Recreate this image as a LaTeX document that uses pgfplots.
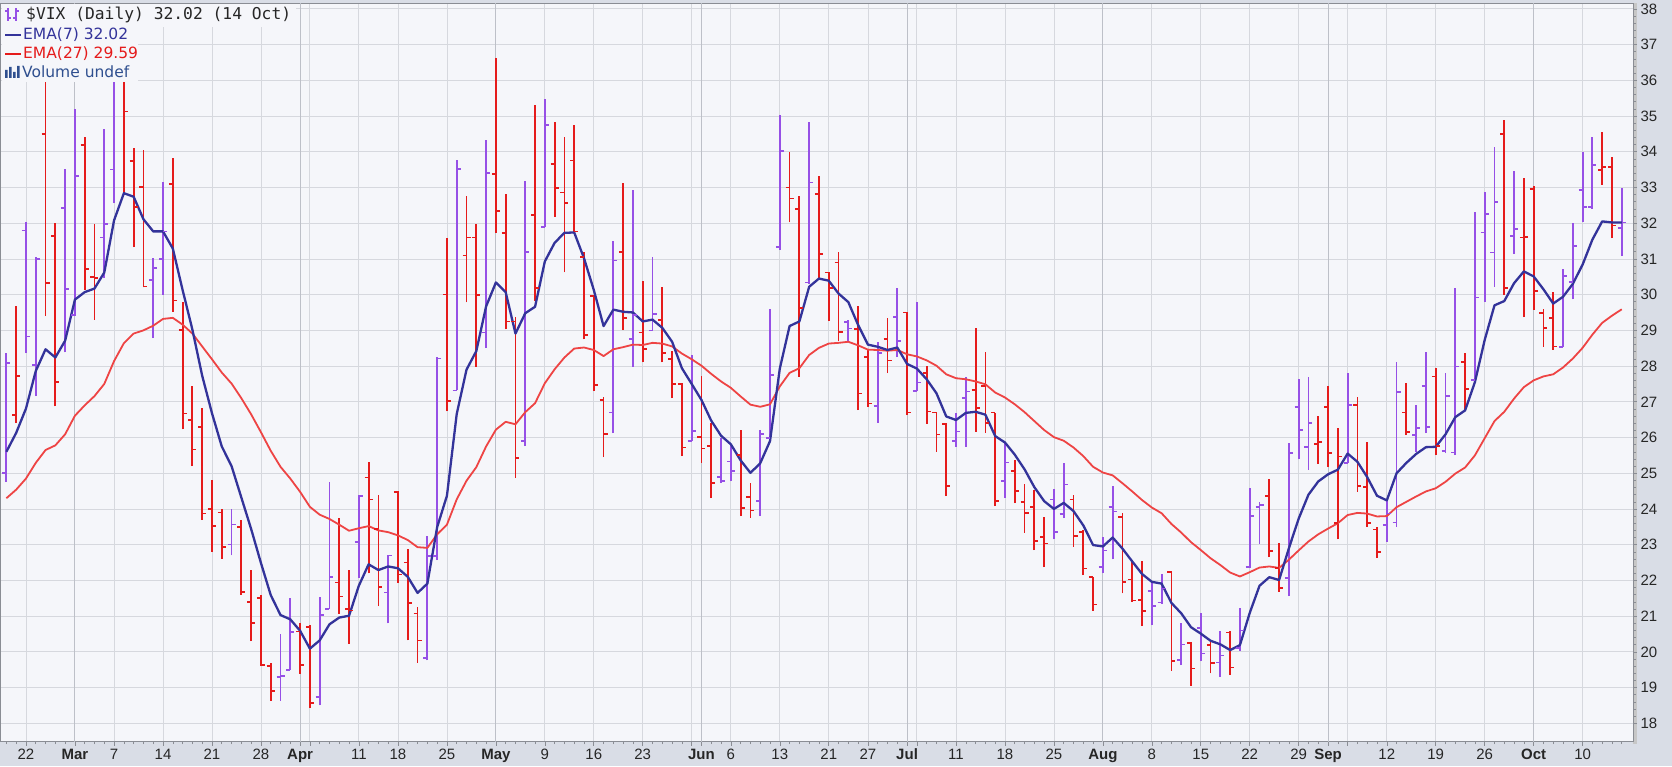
\documentclass[border=0pt]{standalone}
\usepackage{fontspec}
\setmainfont{Liberation Sans}
\newfontfamily\dejavu{DejaVu Sans}
\newfontfamily\dejamono{DejaVu Sans Mono}
\usepackage{pgfplots}
\usepackage{pgfplotstable}
\pgfplotsset{compat=1.18}
\definecolor{outerbg}{HTML}{D9DDE6}
\definecolor{plotbg}{HTML}{F5F6FA}
\definecolor{gridc}{HTML}{D6D8DE}
\definecolor{gridm}{HTML}{BDC0C8}
\definecolor{upc}{HTML}{9650E6}
\definecolor{dnc}{HTML}{E51B1B}
\definecolor{ema7c}{HTML}{33339A}
\definecolor{ema27c}{HTML}{EE4444}
\definecolor{framec}{HTML}{8A8D94}
\definecolor{volc}{HTML}{2F4F8F}

\pgfdeclareplotmark{openL}{\pgfpathmoveto{\pgfqpoint{-4pt}{0pt}}\pgfpathlineto{\pgfqpoint{0pt}{0pt}}\pgfusepathqstroke}
\pgfdeclareplotmark{closeR}{\pgfpathmoveto{\pgfqpoint{0pt}{0pt}}\pgfpathlineto{\pgfqpoint{4pt}{0pt}}\pgfusepathqstroke}

\pgfplotstableread{
i O H L C
0 25.00 28.36 24.75 28.08
2 31.79 32.04 28.36 28.83
3 28.03 31.05 27.16 31.00
6 32.42 33.51 28.38 30.15
7 29.43 35.19 29.40 33.32
10 31.60 34.63 30.46 31.98
11 33.50 37.00 32.56 36.45
15 30.41 31.02 28.78 30.75
16 30.99 33.16 29.99 31.77
23 23.00 24.00 22.70 23.57
28 19.30 20.50 18.63 19.33
29 19.50 21.50 19.50 20.56
32 18.73 21.53 18.50 21.03
33 21.20 24.75 21.20 22.10
36 23.07 24.38 22.07 24.37
39 21.66 22.72 20.80 22.70
43 19.82 23.23 19.76 22.68
44 22.69 28.26 22.57 28.21
46 27.32 33.78 27.32 33.52
49 28.94 34.32 28.50 33.40
53 25.90 33.19 25.76 31.20
55 31.90 35.48 31.90 34.75
62 26.70 31.50 26.12 30.96
64 28.75 32.93 27.98 29.43
66 29.00 31.06 29.00 29.45
70 25.90 28.31 25.89 26.19
73 24.89 25.98 24.72 24.79
74 25.33 25.76 24.77 25.07
77 24.23 26.21 23.80 26.09
78 25.98 29.59 25.98 27.75
79 31.34 35.03 31.25 34.02
82 30.34 34.84 30.30 33.14
86 29.24 29.30 28.68 29.05
89 26.88 28.66 26.42 28.36
91 29.38 30.18 28.25 28.71
93 27.30 29.78 27.30 27.54
97 25.90 26.70 25.74 26.17
98 27.10 27.70 25.74 27.29
102 24.79 25.84 24.30 25.30
107 24.27 24.55 23.15 23.36
108 23.86 25.28 23.74 24.69
112 22.38 23.22 22.20 22.84
113 24.05 24.64 22.59 23.93
117 21.70 21.94 20.75 21.29
118 21.38 22.18 21.34 21.77
120 19.77 20.80 19.63 20.20
122 20.66 21.10 19.73 19.95
124 19.70 20.57 19.30 19.90
126 20.10 21.22 20.03 20.60
127 22.37 24.58 22.34 23.80
128 24.06 24.20 23.02 24.11
131 22.06 25.84 21.56 25.56
132 26.85 27.63 25.39 26.21
133 25.73 27.70 25.10 26.40
137 25.28 27.80 25.28 26.91
141 23.55 24.25 23.08 23.87
142 23.62 28.12 23.50 27.27
144 26.07 26.91 25.60 26.27
145 27.44 28.40 26.12 26.30
147 25.63 27.80 25.56 27.16
148 25.58 30.18 25.51 27.99
150 27.61 32.30 27.61 29.92
151 31.74 32.88 29.80 32.26
152 31.18 34.14 30.22 32.60
154 31.64 33.47 31.14 31.84
159 28.54 30.71 28.54 30.52
160 30.36 32.00 29.87 31.36
161 32.93 34.00 32.02 32.45
162 32.46 34.42 32.40 33.63
165 31.86 32.98 31.08 32.02
}\upt

\pgfplotstableread{
i O H L C
1 26.63 29.68 26.40 27.72
4 34.50 37.79 29.40 30.32
5 31.64 32.00 26.87 27.56
8 34.19 34.40 30.13 30.71
9 30.50 31.98 29.29 30.46
12 36.00 37.20 32.82 35.13
13 33.74 34.10 31.33 32.45
14 33.02 34.05 30.20 30.23
17 33.10 33.82 29.52 29.83
18 29.01 29.78 26.23 26.67
19 26.49 27.43 25.20 25.67
20 26.29 26.82 23.70 23.87
21 24.00 24.80 22.80 23.53
22 23.90 24.00 22.60 22.94
24 23.50 23.70 21.60 21.67
25 21.40 22.30 20.30 20.81
26 21.50 21.60 19.60 19.63
27 19.60 19.69 18.63 18.90
30 20.57 20.80 19.38 19.63
31 20.70 20.75 18.44 18.57
34 21.94 23.75 21.07 21.55
35 21.20 22.28 20.23 21.16
37 24.88 25.32 22.20 24.26
38 23.44 24.40 21.28 21.82
40 24.48 24.50 21.94 22.17
41 22.50 22.88 20.32 21.37
42 21.07 21.26 19.69 20.32
45 30.00 31.59 26.73 27.02
47 31.10 32.75 29.78 31.60
48 31.60 31.98 27.98 29.99
50 33.38 36.63 31.73 32.34
51 31.73 32.82 29.03 29.25
52 29.25 29.38 24.86 25.42
54 32.23 35.30 29.82 30.19
56 33.66 34.84 32.18 32.99
57 32.86 34.40 30.62 32.56
58 33.75 34.75 31.72 31.77
59 31.05 31.18 28.75 28.87
60 29.96 29.99 27.30 27.47
61 27.05 27.13 25.45 26.10
63 31.20 33.12 29.01 29.35
65 28.94 30.39 28.10 28.48
67 29.29 30.22 28.10 28.37
68 28.20 28.43 27.10 27.50
69 27.50 27.52 25.48 25.72
71 26.02 27.72 25.30 25.69
72 25.76 26.40 24.30 24.72
75 25.51 26.21 23.80 24.02
76 24.33 24.74 23.75 23.96
80 33.00 34.00 32.02 32.69
81 32.39 32.76 27.70 29.62
83 32.82 33.32 30.43 31.13
84 30.62 30.62 29.27 30.19
85 30.90 31.20 28.70 28.95
87 29.03 29.68 26.77 27.23
88 28.26 28.45 26.86 26.95
90 28.75 29.34 27.80 28.16
92 29.50 29.50 26.63 26.70
94 27.80 28.00 26.38 26.73
95 26.70 26.72 25.60 26.08
96 26.38 26.42 24.36 24.64
99 27.33 29.06 26.16 26.82
100 27.44 28.40 26.14 26.40
101 26.70 26.70 24.08 24.23
103 25.07 25.37 24.16 24.50
104 24.20 24.70 23.34 23.88
105 24.06 24.53 22.85 23.11
106 23.22 23.77 22.37 23.03
109 24.27 24.39 22.94 23.24
110 23.36 23.41 22.15 22.33
111 22.09 22.10 21.15 21.33
114 23.78 23.90 21.64 21.95
115 22.03 22.57 21.40 21.44
116 21.45 22.55 20.72 21.15
119 22.24 22.27 19.47 19.74
121 20.24 20.28 19.05 19.53
123 20.19 20.33 19.40 19.69
125 20.54 20.57 19.35 19.56
129 24.36 24.83 22.65 22.82
130 22.34 23.06 21.68 21.78
134 25.82 26.60 25.26 25.87
135 26.85 27.44 25.18 25.56
136 23.60 26.26 23.15 25.47
138 26.91 27.14 24.48 24.64
139 24.62 25.88 23.50 23.61
140 23.43 23.50 22.64 22.79
143 26.70 27.54 26.07 26.16
146 27.71 27.94 25.51 25.76
149 28.12 28.36 26.73 27.35
153 34.50 34.89 29.99 30.18
155 31.60 33.26 29.37 31.62
156 32.95 33.04 29.57 30.10
157 29.48 29.59 28.54 29.07
158 29.34 30.08 28.45 28.55
163 33.49 34.54 33.07 33.57
164 33.58 33.86 31.58 31.94
}\dnt

\pgfplotstableread{
i e7 e27
0 25.60 24.30
1 26.13 24.54
2 26.81 24.85
3 27.86 25.29
4 28.47 25.65
5 28.24 25.78
6 28.71 26.09
7 29.86 26.61
8 30.07 26.90
9 30.17 27.16
10 30.62 27.50
11 32.08 28.14
12 32.84 28.64
13 32.74 28.91
14 32.11 29.00
15 31.77 29.13
16 31.77 29.32
17 31.29 29.35
18 30.13 29.16
19 29.02 28.91
20 27.73 28.55
21 26.68 28.19
22 25.75 27.82
23 25.20 27.51
24 24.32 27.10
25 23.44 26.65
26 22.49 26.15
27 21.59 25.63
28 21.03 25.18
29 20.91 24.85
30 20.59 24.48
31 20.09 24.06
32 20.32 23.84
33 20.77 23.72
34 20.96 23.56
35 21.01 23.39
36 21.85 23.46
37 22.45 23.52
38 22.29 23.40
39 22.39 23.35
40 22.34 23.26
41 22.10 23.13
42 21.65 22.93
43 21.91 22.91
44 23.49 23.29
45 24.37 23.56
46 26.66 24.27
47 27.90 24.79
48 28.42 25.17
49 29.67 25.75
50 30.34 26.22
51 30.07 26.44
52 28.91 26.37
53 29.48 26.71
54 29.66 26.96
55 30.93 27.52
56 31.45 27.91
57 31.73 28.24
58 31.74 28.49
59 31.02 28.52
60 30.13 28.45
61 29.12 28.28
62 29.58 28.47
63 29.52 28.53
64 29.50 28.60
65 29.25 28.59
66 29.30 28.65
67 29.07 28.63
68 28.68 28.55
69 27.94 28.35
70 27.50 28.19
71 27.05 28.01
72 26.47 27.78
73 26.05 27.57
74 25.81 27.39
75 25.36 27.15
76 25.01 26.92
77 25.28 26.86
78 25.90 26.93
79 27.93 27.43
80 29.12 27.81
81 29.25 27.94
82 30.22 28.31
83 30.45 28.51
84 30.39 28.63
85 30.03 28.65
86 29.79 28.68
87 29.15 28.58
88 28.60 28.46
89 28.54 28.45
90 28.45 28.43
91 28.52 28.45
92 28.06 28.33
93 27.93 28.27
94 27.63 28.16
95 27.24 28.01
96 26.59 27.77
97 26.49 27.66
98 26.69 27.63
99 26.72 27.57
100 26.64 27.49
101 26.04 27.26
102 25.86 27.12
103 25.52 26.93
104 25.11 26.71
105 24.61 26.46
106 24.22 26.21
107 24.00 26.01
108 24.17 25.91
109 23.94 25.72
110 23.54 25.48
111 22.99 25.18
112 22.95 25.02
113 23.20 24.94
114 22.89 24.72
115 22.53 24.49
116 22.18 24.25
117 21.96 24.04
118 21.91 23.88
119 21.37 23.58
120 21.08 23.34
121 20.69 23.07
122 20.51 22.85
123 20.31 22.62
124 20.21 22.43
125 20.05 22.22
126 20.19 22.11
127 21.09 22.23
128 21.85 22.36
129 22.09 22.39
130 22.01 22.35
131 22.90 22.58
132 23.73 22.84
133 24.40 23.09
134 24.77 23.29
135 24.97 23.45
136 25.10 23.60
137 25.55 23.83
138 25.32 23.89
139 24.89 23.87
140 24.37 23.79
141 24.24 23.80
142 25.00 24.05
143 25.29 24.20
144 25.54 24.35
145 25.73 24.49
146 25.74 24.58
147 26.09 24.76
148 26.57 24.99
149 26.76 25.16
150 27.55 25.50
151 28.73 25.98
152 29.70 26.46
153 29.82 26.72
154 30.32 27.09
155 30.65 27.41
156 30.51 27.60
157 30.15 27.71
158 29.75 27.77
159 29.94 27.96
160 30.30 28.21
161 30.84 28.51
162 31.54 28.88
163 32.05 29.21
164 32.02 29.41
165 32.02 29.59
}\emat

\begin{document}
\begin{tikzpicture}[x=1pt,y=1pt]
\useasboundingbox (0,0) rectangle (1672,766);
\fill[outerbg] (0,0) rectangle (1672,766);
\fill[black!22] (1633,22) rectangle (1637,762.5);
\begin{axis}[
  at={(1pt,24.5pt)}, anchor=south west,
  scale only axis, width=1632pt, height=738pt,
  xmin=-0.55, xmax=166.15, ymin=17.49, ymax=38.15,
  axis background/.style={fill=plotbg},
  axis line style={draw=framec, line width=1pt},
  ytick={18,19,...,38}, yticklabel pos=right, ytick pos=right,
  minor y tick num=4,
  xtick={2,11,16,21,26,31,36,40,45,55,60,65,70,74,79,84,88,93,97,102,107,117,122,127,132,137,141,146,151,161},
  xticklabels={22,7,14,21,28,{},11,18,25,9,16,23,{},6,13,21,27,{},11,18,25,8,15,22,29,{},12,19,26,10},
  extra x ticks={7,30,50,71,92,112,135,156},
  extra x tick labels={Mar,Apr,May,Jun,Jul,Aug,Sep,Oct},
  extra x tick style={grid style={draw=gridm, line width=1pt}, tick label style={font=\fontsize{15}{15}\selectfont\bfseries}},
  minor xtick={0,1,...,165},
  xtick pos=bottom,
  ymajorgrids, xmajorgrids,
  grid style={draw=gridc, line width=0.8pt},
  tick align=outside,
  major tick length=4pt, minor tick length=2.5pt,
  tick style={draw=framec, line width=0.6pt},
  tick label style={font=\fontsize{15}{15}\selectfont, text=black!85},
  /pgf/number format/assume math mode=true,
  yticklabel style={anchor=west},
  clip=true,
]
\addplot[forget plot, draw=none, mark=none, error bars/.cd, y dir=plus, y explicit, error mark=none, error bar style={draw=dnc, line width=1.8pt}] table[x=i, y=L, y error expr=\thisrow{H}-\thisrow{L}] {\dnt};
\addplot[forget plot, only marks, mark=openL, mark options={draw=dnc, line width=1.6pt}] table[x=i, y=O] {\dnt};
\addplot[forget plot, only marks, mark=closeR, mark options={draw=dnc, line width=1.6pt}] table[x=i, y=C] {\dnt};
\addplot[forget plot, draw=none, mark=none, error bars/.cd, y dir=plus, y explicit, error mark=none, error bar style={draw=upc, line width=1.8pt}] table[x=i, y=L, y error expr=\thisrow{H}-\thisrow{L}] {\upt};
\addplot[forget plot, only marks, mark=openL, mark options={draw=upc, line width=1.6pt}] table[x=i, y=O] {\upt};
\addplot[forget plot, only marks, mark=closeR, mark options={draw=upc, line width=1.6pt}] table[x=i, y=C] {\upt};
\addplot[ema27c, line width=1.8pt, mark=none, line join=round] table[x=i, y=e27] {\emat};
\addplot[ema7c, line width=2.3pt, mark=none, line join=round] table[x=i, y=e7] {\emat};
\end{axis}
% legend
\fill[plotbg] (1.6,739) rectangle (296,762);
\fill[plotbg] (1.6,684) rectangle (138,739.5);
\begin{scope}[line width=1.2pt, upc]
\draw (8,745) -- (8,758); \draw (5,755) -- (8,755); \draw (8,748) -- (11,748);
\draw (16,745) -- (16,758); \draw (13,748) -- (16,748); \draw (16,755) -- (19,755);
\end{scope}
\node[anchor=west, inner sep=0pt, text=black!85] at (26,751) {\dejamono\fontsize{16.3}{17}\selectfont \$VIX (Daily) 32.02 (14 Oct)};
\draw[ema7c, line width=2.6pt] (5,731) -- (21,731);
\node[anchor=west, inner sep=0pt, text=ema7c] at (23,731) {\dejavu\fontsize{15.5}{16}\selectfont EMA(7) 32.02};
\draw[dnc, line width=2.6pt] (5,712) -- (21,712);
\node[anchor=west, inner sep=0pt, text=dnc] at (23,712) {\dejavu\fontsize{15.5}{16}\selectfont EMA(27) 29.59};
\fill[volc] (5,688) rectangle (7.5,696) (9,688) rectangle (11.5,699) (13,688) rectangle (15.5,694) (17,688) rectangle (19.5,700);
\node[anchor=west, inner sep=0pt, text=volc] at (22,694) {\dejavu\fontsize{15.5}{16}\selectfont Volume undef};
\end{tikzpicture}
\end{document}
